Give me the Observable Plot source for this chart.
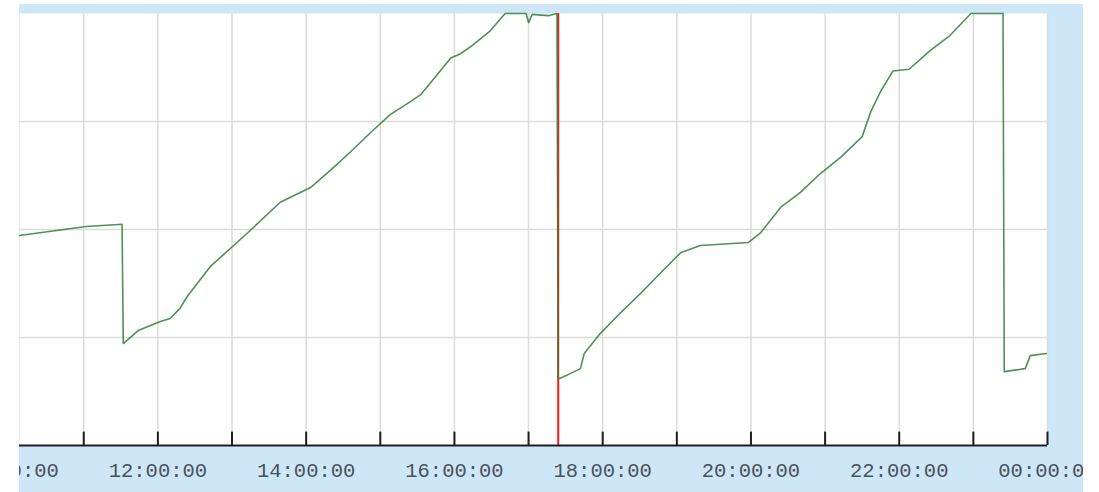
<!DOCTYPE html>
<html>
<head>
<meta charset="utf-8">
<script src="https://cdn.jsdelivr.net/npm/d3@7"></script>
<script src="https://cdn.jsdelivr.net/npm/@observablehq/plot@0.6"></script>
<style>
  html, body { margin: 0; padding: 0; background: #ffffff; }
  #chart { position: absolute; left: 19px; top: 4px; }
</style>
</head>
<body>
<div id="chart"></div>
<script>
// ---- data ----
const times = ["10:08","11:02","11:31","11:32","11:44","12:02","12:10","12:18","12:24","12:43",
  "13:13","13:39","14:04","14:20","14:36","14:52","15:08","15:25","15:33","15:45",
  "15:57","16:05","16:13","16:29","16:41","16:58","17:00","17:03","17:16","17:23",
  "17:24","17:32","17:42","17:45","17:58","18:14","18:31","18:47","19:03","19:19",
  "19:58","20:08","20:24","20:40","20:56","21:13","21:30","21:37","21:45","21:55",
  "22:08","22:25","22:41","22:58","23:24","23:25","23:42","23:46","23:59"];
const values = [48.6,50.7,51.2,23.6,26.6,28.7,29.4,31.8,34.6,41.6,
  49.3,56.3,59.8,63.8,68.0,72.4,76.6,79.7,81.3,85.5,
  89.7,90.7,92.3,96.0,100,100,97.9,99.8,99.5,100,
  15.4,16.4,17.8,21.3,25.9,30.6,35.3,40.0,44.6,46.3,
  47.0,49.3,55.1,58.6,62.9,66.8,71.5,77.3,82.0,86.7,
  87.1,91.4,94.9,100,100,17.1,17.8,20.8,21.3];
const hourTicks = ["10:00","11:00","12:00","13:00","14:00","15:00","16:00","17:00",
  "18:00","19:00","20:00","21:00","22:00","23:00","24:00"];
const labelTicks = ["10:00","12:00","14:00","16:00","18:00","20:00","22:00","24:00"];
const gridValues = [25, 50, 75];
const markerTime = "17:24";
const xStart = "10:08", xEnd = "24:00";

// ---- helpers ----
const toDate = s => { const [h, m] = s.split(":").map(Number); return new Date(Date.UTC(2024, 0, 1, h, m)); };
const data = times.map((t, i) => ({t: toDate(t), v: values[i]}));
const hours = hourTicks.map(toDate);
const labels = labelTicks.map(toDate);
const fmt = d3.utcFormat("%H:%M:%S");

const chart = Plot.plot({
  width: 1064,
  height: 488,
  marginLeft: 0,
  marginRight: 36,
  marginTop: 9,
  marginBottom: 47,
  style: {background: "#cde6f8", overflow: "hidden"},
  x: {type: "utc", domain: [toDate(xStart), toDate(xEnd)], axis: null},
  y: {domain: [0, 100], axis: null},
  marks: [
    Plot.frame({fill: "white", stroke: null}),
    Plot.ruleX(hours, {stroke: "#dcdcdc", strokeWidth: 1.5}),
    Plot.ruleY(gridValues, {stroke: "#dcdcdc", strokeWidth: 1.5}),
    Plot.ruleX([toDate(markerTime)], {stroke: "#ff1a1a", strokeWidth: 2}),
    Plot.line(data, {x: "t", y: "v", stroke: "#2f7f34", strokeWidth: 1.6, strokeOpacity: 0.85}),
    Plot.ruleY([0], {stroke: "#1e1e1e", strokeWidth: 2}),
    Plot.ruleX(hours, {y1: 0, y2: 3.1, stroke: "#1e1e1e", strokeWidth: 2}),
    Plot.text(labels, {x: d => d, y: 0, text: d => fmt(d), dy: 25,
      fontSize: 20.5, fontFamily: "Liberation Mono", fill: "#4a525a"})
  ]
});
document.getElementById("chart").appendChild(chart);
</script>
</body>
</html>
